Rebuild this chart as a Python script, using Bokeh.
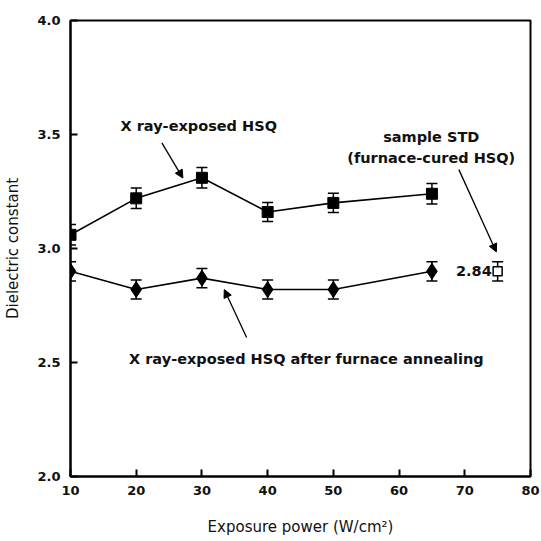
from bokeh.plotting import figure
from bokeh.models import (ColumnDataSource, Range1d, FixedTicker, Whisker, TeeHead,
                          Arrow, NormalHead, Label, CustomJSTickFormatter)
from bokeh.embed import file_html
from bokeh.resources import INLINE

# ---- data ----
power = [10, 20, 30, 40, 50, 65]
k_exposed = [3.06, 3.22, 3.31, 3.16, 3.20, 3.24]
err_exposed = [0.045, 0.045, 0.045, 0.042, 0.042, 0.045]
k_annealed = [2.90, 2.82, 2.87, 2.82, 2.82, 2.90]
err_annealed = [0.042, 0.042, 0.042, 0.042, 0.042, 0.042]
std_power = [75]
std_k = [2.90]
std_err = [0.042]
std_label = "2.84"
x_ticks = [10, 20, 30, 40, 50, 60, 70, 80]
y_ticks = [2.0, 2.5, 3.0, 3.5, 4.0]

FONT = "DejaVu Sans"

p = figure(width=541, height=541, x_range=Range1d(10, 80), y_range=Range1d(2, 4),
           output_backend="svg", toolbar_location=None,
           min_border_left=70, min_border_right=11, min_border_top=20, min_border_bottom=65)
p.grid.visible = False
p.outline_line_color = "black"
p.outline_line_width = 2
p.background_fill_color = "white"
p.border_fill_color = "white"

for ax in (p.xaxis[0], p.yaxis[0]):
    ax.axis_line_width = 2
    ax.major_tick_line_width = 2
    ax.major_tick_in = 7
    ax.major_tick_out = 0
    ax.minor_tick_line_color = None
    ax.major_label_text_font = FONT
    ax.major_label_text_font_size = "13px"
    ax.major_label_text_font_style = "bold"
    ax.major_label_text_color = "#111111"
    ax.axis_label_text_font = FONT
    ax.axis_label_text_font_size = "15px"
    ax.axis_label_text_font_style = "normal"
    ax.axis_label_text_color = "#111111"

p.xaxis.ticker = FixedTicker(ticks=x_ticks)
p.yaxis.ticker = FixedTicker(ticks=y_ticks)
p.yaxis.formatter = CustomJSTickFormatter(code="return tick.toFixed(1);")
p.xaxis.major_label_standoff = 9
p.yaxis.major_label_standoff = 10
p.xaxis.axis_label = "Exposure power (W/cm²)"
p.yaxis.axis_label = "Dielectric constant"
p.xaxis.axis_label_standoff = 20
p.yaxis.axis_label_standoff = 12

src_e = ColumnDataSource(dict(x=power, y=k_exposed,
                              lo=[a - b for a, b in zip(k_exposed, err_exposed)],
                              hi=[a + b for a, b in zip(k_exposed, err_exposed)]))
src_a = ColumnDataSource(dict(x=power, y=k_annealed,
                              lo=[a - b for a, b in zip(k_annealed, err_annealed)],
                              hi=[a + b for a, b in zip(k_annealed, err_annealed)]))
src_s = ColumnDataSource(dict(x=std_power, y=std_k,
                              lo=[a - b for a, b in zip(std_k, std_err)],
                              hi=[a + b for a, b in zip(std_k, std_err)]))

for src in (src_e, src_a, src_s):
    w = Whisker(base="x", lower="lo", upper="hi", source=src, line_width=1.5,
                upper_head=TeeHead(size=11, line_width=1.5),
                lower_head=TeeHead(size=11, line_width=1.5))
    p.add_layout(w)

p.line("x", "y", source=src_e, line_color="black", line_width=1.6)
p.line("x", "y", source=src_a, line_color="black", line_width=1.6)
p.scatter("x", "y", source=src_e, marker="square", size=11, fill_color="black", line_color="black")
p.scatter("x", "y", source=src_a, marker="diamond", size=16, fill_color="black", line_color="black")
p.scatter("x", "y", source=src_s, marker="square", size=9, fill_color="white",
          line_color="black", line_width=1.5)

def lab(x, y, t, align="left"):
    p.add_layout(Label(x=x, y=y, text=t, text_font=FONT, text_font_size="14.5px",
                       text_font_style="bold", text_align=align, text_baseline="middle",
                       text_color="#111111"))

lab(17.6, 3.537, "X ray-exposed HSQ")
lab(64.9, 3.488, "sample STD", "center")
lab(64.9, 3.397, "(furnace-cured HSQ)", "center")
lab(18.9, 2.515, "X ray-exposed HSQ after furnace annealing")
lab(std_power[0] - 0.9, std_k[0], std_label, "right")

def arr(x0, y0, x1, y1):
    p.add_layout(Arrow(x_start=x0, y_start=y0, x_end=x1, y_end=y1, line_width=1.3,
                       line_color="black",
                       end=NormalHead(size=8, fill_color="black", line_color="black")))

arr(23.9, 3.463, 27.1, 3.309)
arr(36.8, 2.61, 33.4, 2.82)
arr(69.1, 3.346, 74.8, 2.985)

open("out.html", "w").write(file_html(p, INLINE))
